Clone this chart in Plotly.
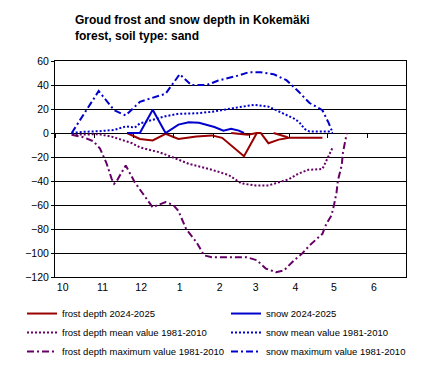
import plotly.graph_objects as go

# ---- data (dates within the season, values in cm) ----
frost_dates = ["2024-11-26", "2024-12-06", "2024-12-16", "2024-12-26", "2025-01-05", "2025-01-19",
               "2025-01-31", "2025-02-08", "2025-02-25", "2025-03-07", "2025-03-10", "2025-03-16",
               "2025-03-24", "2025-04-01", "2025-04-27"]
frost_vals = [0, -5, -6.2, -0.7, -5, -3, -2, -4, -19.3, 0, 0, -8.5, -5.5, -4, -4]

frost_top_dates = ["2025-02-15", "2025-02-28", "2025-03-07", None, "2025-03-20", "2025-03-31"]
frost_top_vals = [0, -1.5, 0, None, 0, -3.5]

snow_dates = ["2024-11-26", "2024-12-06", "2024-12-16", "2024-12-26", "2025-01-05", "2025-01-13",
              "2025-01-21", "2025-02-02", "2025-02-09", "2025-02-15", "2025-02-21", "2025-02-25"]
snow_vals = [0, 0, 19.3, 0, 7, 9, 8.5, 5, 2, 3.5, 2, 0]

frost_mean_dates = ["2024-10-14", "2024-10-31", "2024-11-04", "2024-11-14", "2024-11-30", "2024-12-06",
                    "2024-12-21", "2024-12-31", "2025-01-13", "2025-01-29", "2025-02-13", "2025-02-23",
                    "2025-03-06", "2025-03-16", "2025-04-01", "2025-04-08", "2025-04-16", "2025-04-27",
                    "2025-05-01", "2025-05-05"]
frost_mean_vals = [-1.5, -1, -1, -3, -8.5, -12, -16, -20, -25.7, -30, -35, -42, -43.7, -43.7,
                   -38.5, -34, -30.7, -30, -21.5, -12]

snow_mean_dates = ["2024-10-14", "2024-10-23", "2024-11-04", "2024-11-16", "2024-11-25", "2024-12-02",
                   "2024-12-06", "2024-12-16", "2024-12-26", "2025-01-05", "2025-01-21", "2025-02-02",
                   "2025-02-08", "2025-02-21", "2025-03-05", "2025-03-16", "2025-03-28", "2025-04-05",
                   "2025-04-09", "2025-04-13", "2025-04-17", "2025-05-02", "2025-05-05"]
snow_mean_vals = [0, 1, 1.5, 2.5, 5.5, 4.5, 8, 11, 14, 16, 16.5, 18, 19.3, 21.5, 23.5, 22, 16, 12,
                  9, 3.5, 1.2, 1.2, 0]

frost_max_dates = ["2024-10-14", "2024-10-23", "2024-10-31", "2024-11-05", "2024-11-10", "2024-11-14",
                   "2024-11-16", "2024-11-18", "2024-11-25", "2024-12-02", "2024-12-08", "2024-12-16",
                   "2024-12-20", "2024-12-26", "2025-01-01", "2025-01-05", "2025-01-11", "2025-01-19",
                   "2025-01-25", "2025-01-31", "2025-02-13", "2025-02-27", "2025-03-07", "2025-03-14",
                   "2025-03-22", "2025-03-28", "2025-04-05", "2025-04-11", "2025-04-17", "2025-04-27",
                   "2025-04-30", "2025-05-04", "2025-05-06", "2025-05-08", "2025-05-09", "2025-05-12",
                   "2025-05-13", "2025-05-15", "2025-05-16"]
frost_max_vals = [-1.5, -3.5, -7, -13, -25, -38, -42.3, -40, -27, -41, -50, -62, -60, -57.6, -60,
                  -65, -80, -91, -102, -103.5, -103.5, -103.5, -106, -113, -116, -114.6, -106,
                  -100.7, -93.7, -84, -75.7, -68.8, -60, -49.3, -39.6, -27, -16, -6.2, 0]

snow_max_dates = ["2024-10-14", "2024-11-04", "2024-11-16", "2024-11-25", "2024-12-06", "2024-12-17",
                  "2024-12-26", "2025-01-06", "2025-01-15", "2025-01-27", "2025-02-05", "2025-02-21",
                  "2025-03-01", "2025-03-10", "2025-03-20", "2025-03-30", "2025-04-08", "2025-04-17",
                  "2025-04-27", "2025-05-02", "2025-05-05"]
snow_max_vals = [0, 35, 19, 14.6, 26, 30, 32.7, 49, 40, 40, 43.7, 48, 50.7, 50.7, 49, 44, 35, 25,
                 19, 8, 0]

month_starts = ["2024-10-01", "2024-11-01", "2024-12-01", "2025-01-01", "2025-02-01", "2025-03-01",
                "2025-04-01", "2025-05-01", "2025-06-01", "2025-07-01"]
month_label_pos = ["2024-10-07", "2024-11-07", "2024-12-07", "2025-01-06", "2025-02-06", "2025-03-06",
                   "2025-04-06", "2025-05-06", "2025-06-06"]
month_labels = ["10", "11", "12", "1", "2", "3", "4", "5", "6"]

RED = "#990000"
BLUE = "#0000CC"
PURPLE = "#660066"
FONT = "Liberation Sans, Arial, sans-serif"

fig = go.Figure()
fig.add_trace(go.Scatter(x=frost_dates, y=frost_vals, mode="lines", name="frost depth 2024-2025",
                         line=dict(color=RED, width=2)))
fig.add_trace(go.Scatter(x=snow_dates, y=snow_vals, mode="lines", name="snow 2024-2025",
                         line=dict(color=BLUE, width=2)))
fig.add_trace(go.Scatter(x=frost_mean_dates, y=frost_mean_vals, mode="lines",
                         name="frost depth mean value 1981-2010",
                         line=dict(color=PURPLE, width=2, dash="2px,2px")))
fig.add_trace(go.Scatter(x=snow_mean_dates, y=snow_mean_vals, mode="lines",
                         name="snow mean value 1981-2010",
                         line=dict(color=BLUE, width=2, dash="2px,2px")))
fig.add_trace(go.Scatter(x=frost_max_dates, y=frost_max_vals, mode="lines",
                         name="frost depth maximum value 1981-2010",
                         line=dict(color=PURPLE, width=2, dash="7px,3px,2px,3px")))
fig.add_trace(go.Scatter(x=snow_max_dates, y=snow_max_vals, mode="lines",
                         name="snow maximum value 1981-2010",
                         line=dict(color=BLUE, width=2, dash="7px,3px,2px,3px")))
fig.add_trace(go.Scatter(x=frost_top_dates, y=frost_top_vals, mode="lines", showlegend=False,
                         connectgaps=False, name="frost depth 2024-2025",
                         line=dict(color=RED, width=2)))
# invisible trace carrying the month-start tick axis
fig.add_trace(go.Scatter(x=month_starts, y=[0] * len(month_starts), xaxis="x2", mode="lines",
                         line=dict(width=0), showlegend=False, hoverinfo="skip"))

xr = ["2024-10-01", "2025-07-01"]
fig.update_layout(
    width=430, height=376,
    margin=dict(l=55, r=24, t=61, b=99, autoexpand=False),
    paper_bgcolor="white", plot_bgcolor="white",
    font=dict(family=FONT, size=10.5, color="black"),
    title=dict(text="<b>Groud frost and snow depth in Kokemäki<br>forest, soil type: sand</b>",
               font=dict(family=FONT, size=12, color="black"),
               x=75 / 430, xref="container", xanchor="left",
               y=1 - 24 / 376, yref="container", yanchor="top"),
    xaxis=dict(type="date", range=xr, showgrid=False, zeroline=False,
               tickmode="array", tickvals=month_label_pos, ticktext=month_labels,
               ticks="", showline=True, linecolor="black", linewidth=1, mirror=True,
               tickfont=dict(size=10.5)),
    xaxis2=dict(type="date", range=xr, overlaying="x", anchor="free", position=120 / 180,
                side="bottom", tickmode="array", tickvals=month_starts, showticklabels=False,
                ticks="outside", ticklen=4, tickcolor="black", showgrid=False, zeroline=False,
                showline=False),
    yaxis=dict(range=[-120, 60], dtick=20, showgrid=True, gridcolor="black", gridwidth=1,
               zeroline=False, showline=True, linecolor="black", linewidth=1, mirror=True,
               ticks="outside", ticklen=3, tickcolor="black", tickfont=dict(size=10.5)),
    legend=dict(orientation="h", x=-0.094, xanchor="left", y=-0.102, yanchor="top",
                entrywidth=159, entrywidthmode="pixels", font=dict(size=9.5),
                bgcolor="rgba(0,0,0,0)", itemwidth=30),
    showlegend=True,
)

fig.write_html("out.html", config={"displayModeBar": False},
               post_script="document.body.style.margin='0';")
